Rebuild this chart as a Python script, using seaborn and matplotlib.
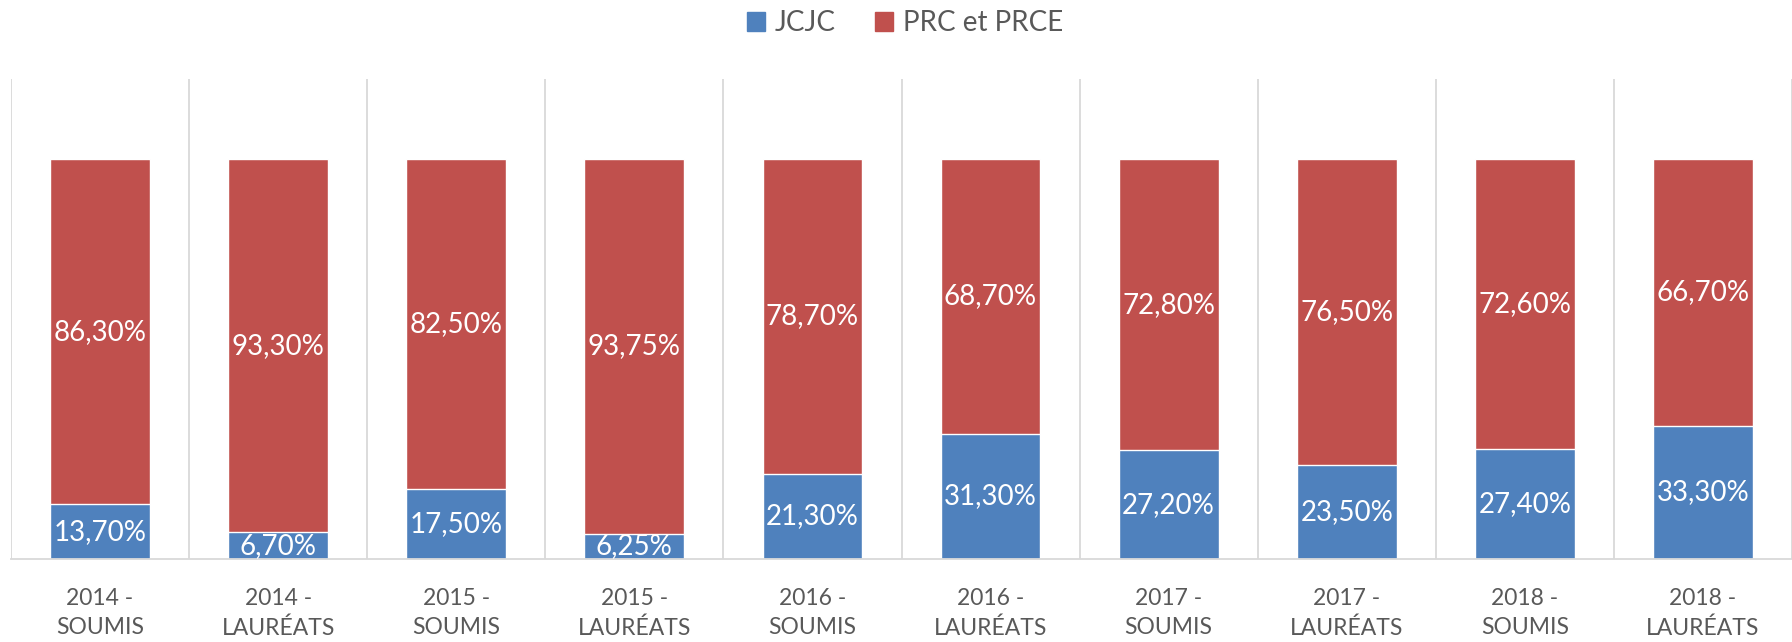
import numpy as np
import pandas as pd
import matplotlib
matplotlib.use("Agg")
import matplotlib.pyplot as plt
import seaborn as sns
from matplotlib.patches import Patch

# données
categories = ["2014 -\nSOUMIS", "2014 -\nLAURÉATS", "2015 -\nSOUMIS", "2015 -\nLAURÉATS",
              "2016 -\nSOUMIS", "2016 -\nLAURÉATS", "2017 -\nSOUMIS", "2017 -\nLAURÉATS",
              "2018 -\nSOUMIS", "2018 -\nLAURÉATS"]
jcjc = [13.70, 6.70, 17.50, 6.25, 21.30, 31.30, 27.20, 23.50, 27.40, 33.30]
prc = [86.30, 93.30, 82.50, 93.75, 78.70, 68.70, 72.80, 76.50, 72.60, 66.70]

blue = "#4F81BD"
red = "#C0504D"
grey_txt = "#595959"
grid_col = "#D9D9D9"

sns.set_theme(style="white")
plt.rcParams['font.family'] = ['Lato', 'DejaVu Sans']

df = pd.DataFrame({"cat": categories, "JCJC": jcjc, "PRC": prc})
df["total"] = df["JCJC"] + df["PRC"]

W, H = 1792, 642
fig = plt.figure(figsize=(W / 100, H / 100), dpi=100)
ax = fig.add_axes([11 / W, (H - 559) / H, 1 - 11 / W, (559 - 79) / H])

# barres empilées : total (rouge) puis JCJC (bleu) par-dessus
sns.barplot(data=df, x="cat", y="total", color=red, width=0.56, saturation=1, ax=ax)
sns.barplot(data=df, x="cat", y="JCJC", color=blue, width=0.56, saturation=1, ax=ax)

ax.set_ylim(0, 120)
ax.set_xlim(-0.5, 9.46)
ax.set_yticks([])
ax.set_xlabel("")
ax.set_ylabel("")

# étiquettes de valeurs
fmt = lambda v: f"{v:.2f}".replace(".", ",") + "%"
for i, (a, b) in enumerate(zip(jcjc, prc)):
    ax.text(i, a / 2, fmt(a), ha="center", va="center", color="white", fontsize=20, clip_on=True)
    ax.text(i, a + b / 2, fmt(b), ha="center", va="center", color="white", fontsize=20, clip_on=True)

# lignes verticales entre catégories
ax.set_xticks(np.arange(-0.5, 10, 1), minor=True)
ax.grid(which="minor", axis="x", color=grid_col, linewidth=1.3)
ax.tick_params(axis="x", which="both", length=0)
ax.tick_params(axis="x", which="major", pad=21, labelsize=16.5, labelcolor=grey_txt)
for lab in ax.get_xticklabels():
    lab.set_linespacing(1.45)

for s in ["top", "right", "left"]:
    ax.spines[s].set_visible(False)
ax.spines["bottom"].set_color(grid_col)
ax.spines["bottom"].set_linewidth(1.3)

handles = [Patch(color=blue, label="JCJC"), Patch(color=red, label="PRC et PRCE")]
leg = fig.legend(handles=handles, loc="center", bbox_to_anchor=(905 / W, 1 - 23 / H),
                 ncol=2, frameon=False, fontsize=20, handlelength=0.65, handleheight=0.65,
                 handletextpad=0.35, columnspacing=1.4, labelcolor=grey_txt)

fig.savefig("out.png", dpi=100)
